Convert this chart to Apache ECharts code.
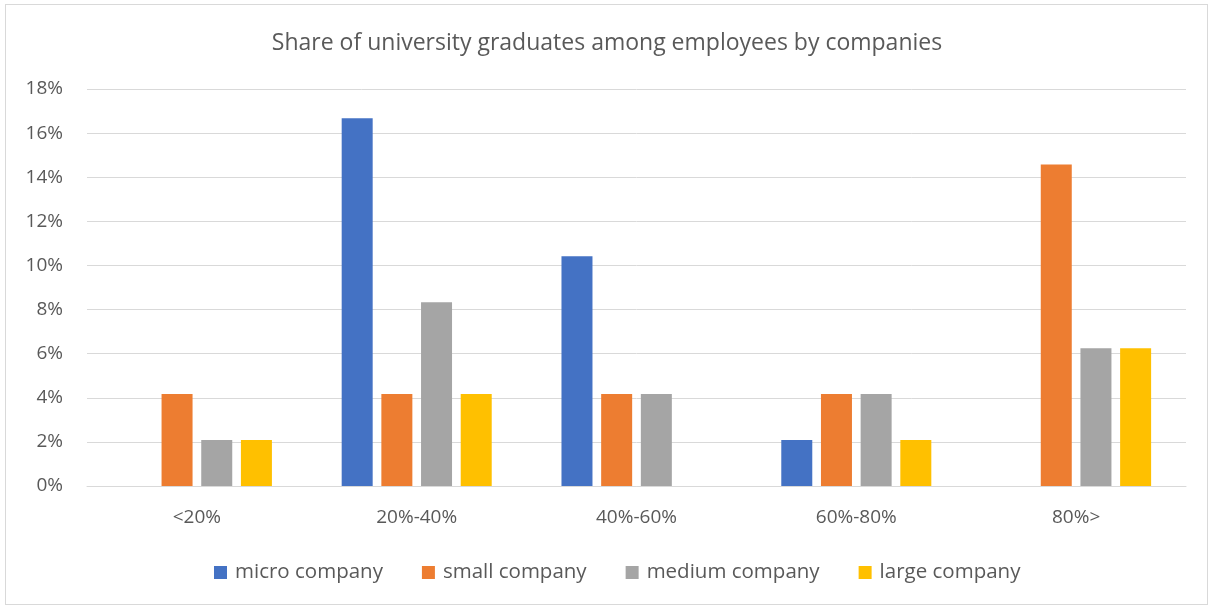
<!DOCTYPE html>
<html>
<head>
<meta charset="utf-8">
<script src="https://cdn.jsdelivr.net/npm/echarts@6/dist/echarts.min.js"></script>
<style>
  html, body { margin: 0; padding: 0; background: #ffffff; }
  #frame { position: absolute; left: 5px; top: 4px; width: 1203px; height: 601px; border: 1px solid #d9d9d9; box-sizing: border-box; }
  #chart { position: absolute; left: 0; top: 0; width: 1214px; height: 607px; }
</style>
</head>
<body>
<div id="frame"></div>
<div id="chart"></div>
<script>
// Share of respondents (%) in each graduate-share band, per company size
const categories = ['<20%', '20%-40%', '40%-60%', '60%-80%', '80%>'];
const seriesNames = ['micro company', 'small company', 'medium company', 'large company'];
const microValues  = [null, 16.67, 10.42, 2.08, null];
const smallValues  = [4.17, 4.17, 4.17, 4.17, 14.58];
const mediumValues = [2.08, 8.33, 4.17, 4.17, 6.25];
const largeValues  = [2.08, 4.17, null, 2.08, 6.25];
const colors = ['#4472C4', '#ED7D31', '#A5A5A5', '#FFC000'];

const fontFamily = '"Open Sans", "Noto Sans", sans-serif';
const textColor = '#595959';

const chart = echarts.init(document.getElementById('chart'), null, { renderer: 'canvas' });
const valueSets = [microValues, smallValues, mediumValues, largeValues];

chart.setOption({
  animation: false,
  color: colors,
  title: {
    text: 'Share of university graduates among employees by companies',
    left: 'center',
    top: 27,
    textStyle: { fontFamily, fontSize: 23, fontWeight: 'normal', color: textColor }
  },
  legend: {
    data: seriesNames,
    top: 557,
    left: 209,
    itemWidth: 13,
    itemHeight: 13,
    itemGap: 39,
    icon: 'rect',
    textStyle: { fontFamily, fontSize: 20.5, color: textColor, padding: [0, 0, 0, 3] }
  },
  grid: { left: 87, right: 28, top: 89, bottom: 121, containLabel: false },
  xAxis: {
    type: 'category',
    data: categories,
    axisLine: { show: true, lineStyle: { color: '#d9d9d9', width: 1 } },
    axisTick: { show: false },
    axisLabel: { fontFamily, fontSize: 19, color: textColor, margin: 22 }
  },
  yAxis: {
    type: 'value',
    min: 0,
    max: 18,
    interval: 2,
    axisLine: { show: false },
    axisTick: { show: false },
    splitLine: { lineStyle: { color: '#d9d9d9', width: 1 } },
    axisLabel: { fontFamily, fontSize: 19, color: textColor, margin: 24, formatter: '{value}%' }
  },
  series: seriesNames.map((name, i) => ({
    name,
    type: 'bar',
    data: valueSets[i],
    barWidth: 31,
    barGap: '28%',
    itemStyle: { color: colors[i] }
  }))
});
</script>
</body>
</html>
